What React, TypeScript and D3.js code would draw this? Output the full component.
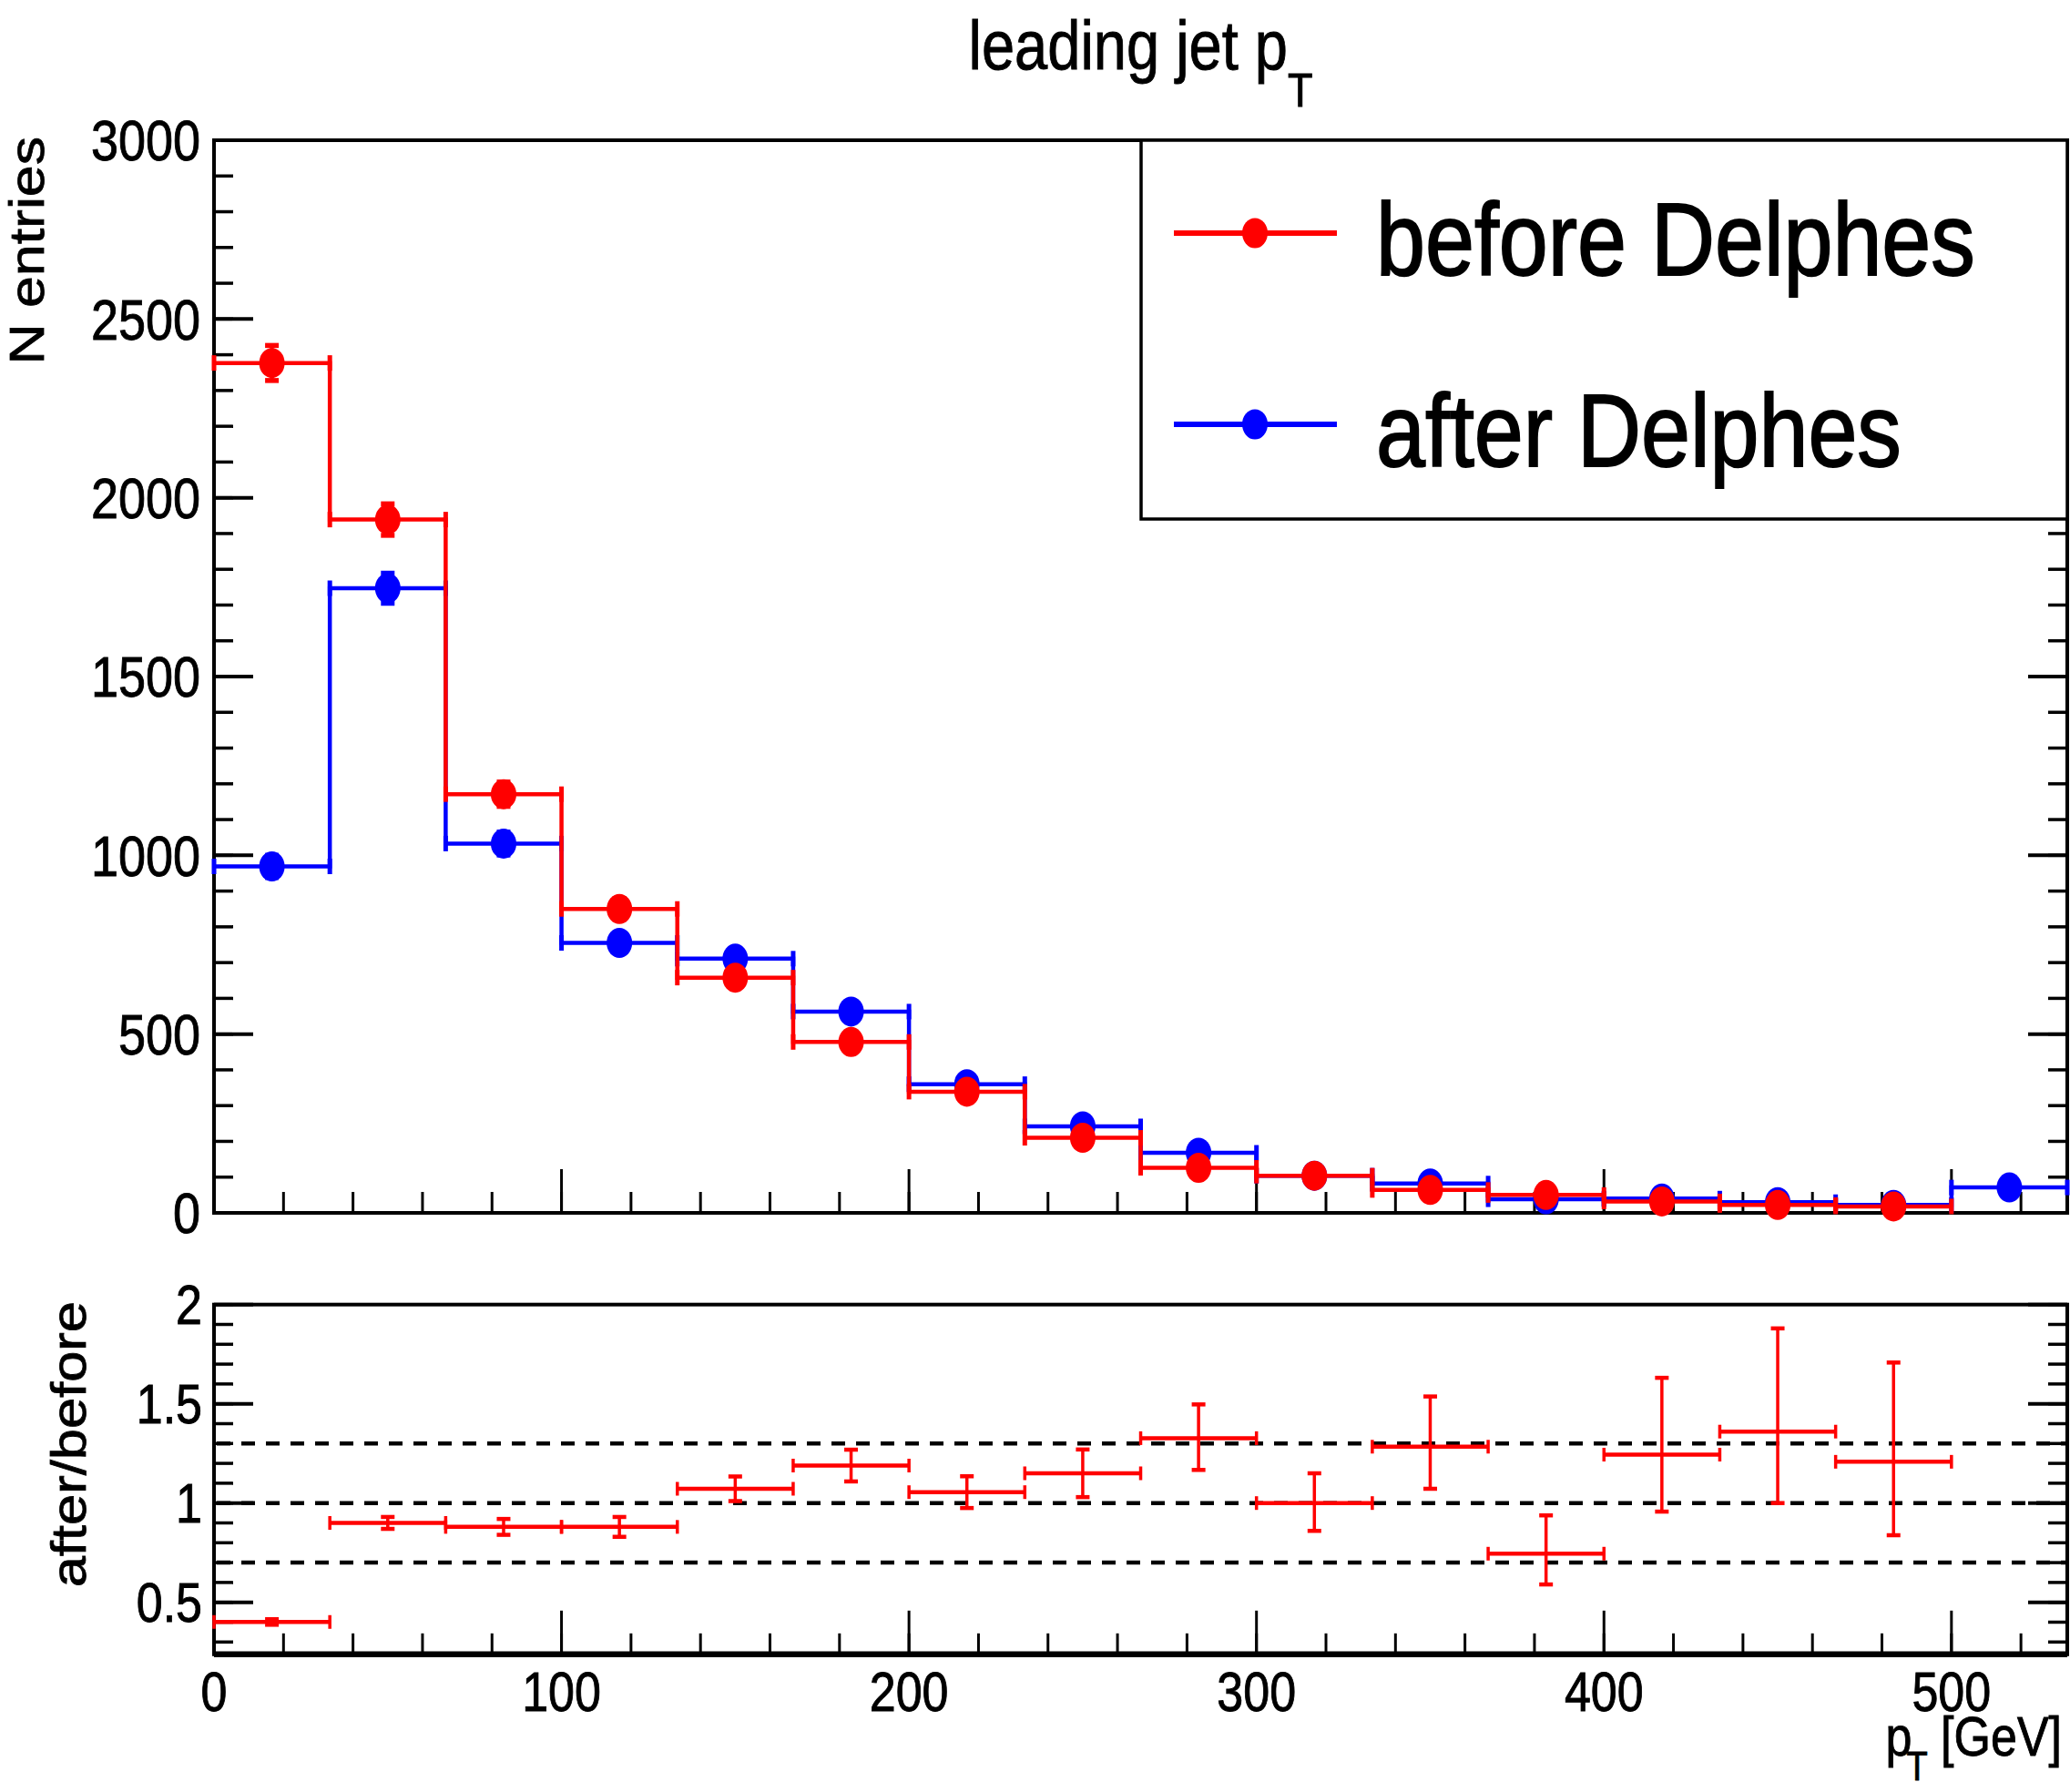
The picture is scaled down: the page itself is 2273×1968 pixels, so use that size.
import * as d3 from "d3";

// ---- data ----
const binEdges = [0, 33.33, 66.67, 100, 133.33, 166.67, 200, 233.33, 266.67, 300, 333.33, 366.67, 400, 433.33, 466.67, 500, 533.33];

const beforeCounts = [2377, 1939, 1171, 850, 658, 478, 339, 210, 126, 104, 64, 50, 32, 22, 18, 0];
const beforeErrors = [49, 44, 34, 29, 26, 22, 18, 14.5, 11.2, 10.2, 8, 7.1, 5.7, 4.7, 4.2, 0];
const afterCounts = [969, 1747, 1033, 755, 711, 563, 360, 242, 168, 104, 82, 38, 40, 30, 22, 71];
const afterErrors = [31, 42, 32, 27.5, 26.7, 23.7, 19, 15.6, 13, 10.2, 9, 6.2, 6.3, 5.5, 4.7, 8.4];

const ratioValues = [0.401, 0.9, 0.88, 0.88, 1.072, 1.189, 1.055, 1.15, 1.327, 1.0, 1.284, 0.745, 1.244, 1.36, 1.208];
const ratioErrUp = [0.014, 0.03, 0.04, 0.05, 0.062, 0.08, 0.08, 0.12, 0.17, 0.15, 0.253, 0.193, 0.387, 0.52, 0.5];
const ratioErrDown = [0.014, 0.03, 0.04, 0.05, 0.062, 0.08, 0.08, 0.12, 0.16, 0.14, 0.212, 0.155, 0.287, 0.36, 0.37];

const refLines = [0.7, 1.0, 1.3];

const topTicks = [0, 500, 1000, 1500, 2000, 2500, 3000];
const xTicks = [0, 100, 200, 300, 400, 500];
const ratioTicks = [0.5, 1, 1.5, 2];

const series = [
  { name: "after Delphes", color: "#0000ff", counts: afterCounts, errors: afterErrors },
  { name: "before Delphes", color: "#ff0000", counts: beforeCounts, errors: beforeErrors },
];

const W = 2273;
const H = 1968;
const FONT = "'Liberation Sans', Arial, Helvetica, sans-serif";
const SY = 1.16; // picture is stretched vertically

function Label({ x, y, size, anchor = "start", rotate = 0, weight = 0.8, children }: any) {
  return (
    <text
      transform={`translate(${x},${y}) scale(1,${SY}) rotate(${rotate})`}
      fontSize={size}
      textAnchor={anchor}
      fontFamily={FONT}
      fill="#000"
      stroke="#000"
      strokeWidth={weight}
    >
      {children}
    </text>
  );
}

export default function App() {
  const x = d3.scaleLinear().domain([0, 533.33]).range([235, 2270]);
  const yTop = d3.scaleLinear().domain([0, 3000]).range([1332, 154]);
  const yBot = d3.scaleLinear().domain([0.238, 2]).range([1816.8, 1432.7]);

  const [x0, x1] = x.range();
  const xMinor = d3.ticks(0, 533.33, 27);
  const yTopMinor = d3.ticks(0, 3000, 30);
  const yBotMinor = d3.ticks(0.238, 2, 18).filter((t) => t > 0.238);

  const tickLbl = 54;
  const botLbl = 52;

  const stepPath = (counts: number[]) => {
    const p = d3.path();
    let started = false;
    counts.forEach((v, i) => {
      if (v <= 0) return;
      if (!started) {
        p.moveTo(x(binEdges[i]), yTop(v));
        started = true;
      } else {
        p.lineTo(x(binEdges[i]), yTop(v));
      }
      p.lineTo(x(binEdges[i + 1]), yTop(v));
    });
    return p.toString();
  };

  const frame = (top: number, bottom: number, yS: any, major: number[], minor: number[]) => (
    <g stroke="#000" fill="none">
      {minor.map((t) => (
        <g key={"m" + t}>
          <line x1={x0} x2={x0 + 21} y1={yS(t)} y2={yS(t)} strokeWidth={3.5} />
          <line x1={x1} x2={x1 - 21} y1={yS(t)} y2={yS(t)} strokeWidth={3.5} />
        </g>
      ))}
      {major.map((t) => (
        <g key={"M" + t}>
          <line x1={x0} x2={x0 + 43} y1={yS(t)} y2={yS(t)} strokeWidth={4} />
          <line x1={x1} x2={x1 - 43} y1={yS(t)} y2={yS(t)} strokeWidth={4} />
        </g>
      ))}
      {xMinor.map((t) => (
        <line key={"xm" + t} x1={x(t)} x2={x(t)} y1={bottom} y2={bottom - 23} strokeWidth={3} />
      ))}
      {xTicks.map((t) => (
        <line key={"xM" + t} x1={x(t)} x2={x(t)} y1={bottom} y2={bottom - 48} strokeWidth={3} />
      ))}
      <rect x={x0} y={top} width={x1 - x0} height={bottom - top} strokeWidth={4} />
    </g>
  );

  return (
    <svg width={W} height={H} style={{ position: "absolute", left: 0, top: 0, background: "#fff" }}>
      <rect width={W} height={H} fill="#fff" />

      {/* title */}
      <Label x={(x0 + x1) / 2} y={76} size={65} anchor="middle">
        leading jet p<tspan fontSize={45} dy={35}>T</tspan>
      </Label>

      {/* ---------- upper pad ---------- */}
      {frame(yTop(3000), yTop(0), yTop, topTicks, yTopMinor)}
      {topTicks.map((t) => (
        <Label key={t} x={220} y={yTop(t) + 0.716 * tickLbl * SY / 2} size={tickLbl} anchor="end">
          {t}
        </Label>
      ))}
      <Label x={48} y={150} size={54} anchor="end" rotate={-90}>
        N entries
      </Label>

      {series.map((s) => (
        <g key={s.name} stroke={s.color} fill="none">
          <path d={stepPath(s.counts)} strokeWidth={4.5} />
          {s.counts.map((v, i) => {
            if (v <= 0) return null;
            const xa = x(binEdges[i]);
            const xb = x(binEdges[i + 1]);
            const xc = (xa + xb) / 2;
            const yc = yTop(v);
            const yu = yTop(v + s.errors[i]);
            const yd = yTop(v - s.errors[i]);
            return (
              <g key={i}>
                <line x1={xa} x2={xa} y1={yc - 8.5} y2={yc + 8.5} strokeWidth={5} />
                <line x1={xb} x2={xb} y1={yc - 8.5} y2={yc + 8.5} strokeWidth={5} />
                <line x1={xc} x2={xc} y1={yu} y2={yd} strokeWidth={4} />
                <line x1={xc - 7.5} x2={xc + 7.5} y1={yu} y2={yu} strokeWidth={5.5} />
                <line x1={xc - 7.5} x2={xc + 7.5} y1={yd} y2={yd} strokeWidth={5.5} />
                <ellipse cx={xc} cy={yc} rx={14} ry={16.5} fill={s.color} stroke="none" />
              </g>
            );
          })}
        </g>
      ))}

      {/* legend */}
      <g>
        <rect x={1253} y={yTop(3000)} width={x1 - 1253} height={570 - yTop(3000)} fill="#fff" stroke="#000" strokeWidth={3.5} />
        {[series[1], series[0]].map((s, i) => {
          const ly = 256 + i * 210;
          return (
            <g key={s.name}>
              <line x1={1289} x2={1468} y1={ly} y2={ly} stroke={s.color} strokeWidth={6} />
              <ellipse cx={1378} cy={ly} rx={14} ry={16.5} fill={s.color} />
              <Label x={1511} y={ly + 46} size={97} weight={1.6}>
                {s.name}
              </Label>
            </g>
          );
        })}
      </g>

      {/* ---------- lower pad ---------- */}
      {frame(yBot(2), yBot(0.238), yBot, ratioTicks, yBotMinor)}
      <line x1={x0} x2={x1} y1={yBot(0.238)} y2={yBot(0.238)} stroke="#000" strokeWidth={6.5} />
      {refLines.map((r) => (
        <line
          key={r}
          x1={x0}
          x2={x1}
          y1={yBot(r)}
          y2={yBot(r)}
          stroke="#000"
          strokeWidth={4.5}
          strokeDasharray="15 12"
          strokeDashoffset={-30}
        />
      ))}
      {ratioTicks.map((t) => (
        <Label key={t} x={222} y={yBot(t) + 0.716 * botLbl * SY / 2} size={botLbl} anchor="end">
          {t}
        </Label>
      ))}
      {xTicks.map((t) => (
        <Label key={t} x={x(t)} y={1879} size={botLbl} anchor="middle">
          {t}
        </Label>
      ))}
      <Label x={94} y={1429} size={53} anchor="end" rotate={-90}>
        after/before
      </Label>
      <Label x={2264} y={1928} size={52} anchor="end">
        p<tspan fontSize={38} dy={23} dx={-6}>T</tspan>
        <tspan dy={-23}> [GeV]</tspan>
      </Label>

      <g stroke="#ff0000" fill="none">
        {ratioValues.map((v, i) => {
          const xa = x(binEdges[i]);
          const xb = x(binEdges[i + 1]);
          const xc = (xa + xb) / 2;
          const yc = yBot(v);
          const yu = yBot(v + ratioErrUp[i]);
          const yd = yBot(v - ratioErrDown[i]);
          return (
            <g key={i}>
              <line x1={xa} x2={xb} y1={yc} y2={yc} strokeWidth={4.5} />
              <line x1={xa} x2={xa} y1={yc - 7.5} y2={yc + 7.5} strokeWidth={3.5} />
              <line x1={xb} x2={xb} y1={yc - 7.5} y2={yc + 7.5} strokeWidth={3.5} />
              <line x1={xc} x2={xc} y1={yu} y2={yd} strokeWidth={3.5} />
              <line x1={xc - 7.5} x2={xc + 7.5} y1={yu} y2={yu} strokeWidth={4.5} />
              <line x1={xc - 7.5} x2={xc + 7.5} y1={yd} y2={yd} strokeWidth={4.5} />
            </g>
          );
        })}
      </g>
    </svg>
  );
}
